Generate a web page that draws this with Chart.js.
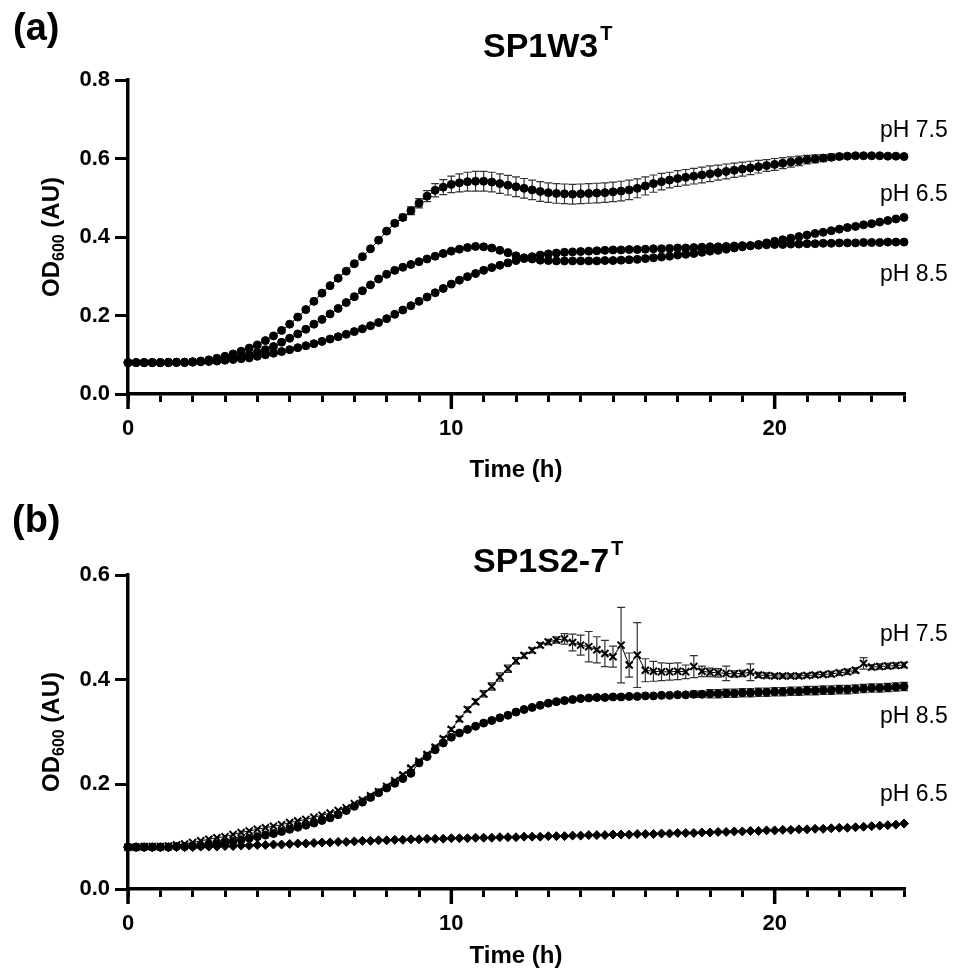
<!DOCTYPE html>
<html>
<head>
<meta charset="utf-8">
<script src="https://cdn.jsdelivr.net/npm/chart.js@4.4.1/dist/chart.umd.min.js"></script>
<style>
  body { margin: 0; background: #fff; width: 960px; height: 975px; position: relative; overflow: hidden;
         font-family: "Liberation Sans", Arial, sans-serif; }
  .panel { position: absolute; left: 0; width: 960px; }
  canvas { display: block; }
  .txt { position: absolute; white-space: nowrap; color: #000; line-height: 1; }
  .plabel { font-size: 38px; font-weight: bold; }
  .title { font-size: 34px; font-weight: bold; }
  .title .sup { font-size: 20px; position: relative; top: -17px; margin-left: 2px; }
  .ph { font-size: 23px; }
  .ytitle { font-size: 24px; font-weight: bold; transform: translate(-50%, -50%) rotate(-90deg); }
  .ytitle sub { font-size: 16px; vertical-align: -5px; line-height: 0; }
</style>
</head>
<body>
<div class="panel" style="top:0;height:487px"><canvas id="chartA" width="960" height="487"></canvas></div>
<div class="panel" style="top:487px;height:488px"><canvas id="chartB" width="960" height="488"></canvas></div>

<div class="txt plabel" style="left:13px;top:8px">(a)</div>
<div class="txt title" style="left:483px;top:28px">SP1W3<span class="sup">T</span></div>
<div class="txt ytitle" style="left:51px;top:237px">OD<sub>600</sub> (AU)</div>
<div class="txt ph" style="left:880px;top:118px">pH 7.5</div>
<div class="txt ph" style="left:880px;top:182px">pH 6.5</div>
<div class="txt ph" style="left:880px;top:262px">pH 8.5</div>

<div class="txt plabel" style="left:12px;top:500px">(b)</div>
<div class="txt title" style="left:473px;top:543px">SP1S2-7<span class="sup">T</span></div>
<div class="txt ytitle" style="left:51px;top:732px">OD<sub>600</sub> (AU)</div>
<div class="txt ph" style="left:880px;top:622px">pH 7.5</div>
<div class="txt ph" style="left:880px;top:704px">pH 8.5</div>
<div class="txt ph" style="left:880px;top:782px">pH 6.5</div>

<script>
// sampling times (h), every 15 min
const hours = [0,0.25,0.5,0.75,1,1.25,1.5,1.75,2,2.25,2.5,2.75,3,3.25,3.5,3.75,4,4.25,4.5,4.75,
  5,5.25,5.5,5.75,6,6.25,6.5,6.75,7,7.25,7.5,7.75,8,8.25,8.5,8.75,9,9.25,9.5,9.75,
  10,10.25,10.5,10.75,11,11.25,11.5,11.75,12,12.25,12.5,12.75,13,13.25,13.5,13.75,14,14.25,14.5,14.75,
  15,15.25,15.5,15.75,16,16.25,16.5,16.75,17,17.25,17.5,17.75,18,18.25,18.5,18.75,19,19.25,19.5,19.75,
  20,20.25,20.5,20.75,21,21.25,21.5,21.75,22,22.25,22.5,22.75,23,23.25,23.5,23.75,24];

const xMajor = [0, 10, 20];

// (a) SP1W3
const a_ph75 = [0.080,0.080,0.080,0.080, 0.080,0.081,0.081,0.081, 0.082,0.084,0.087,0.091, 0.096,0.102,0.109,0.117,
  0.125,0.136,0.148,0.162, 0.178,0.196,0.215,0.236, 0.257,0.276,0.295,0.313, 0.332,0.350,0.370,0.392,
  0.415,0.435,0.450,0.467, 0.486,0.504,0.519,0.527, 0.534,0.538,0.541,0.542, 0.542,0.540,0.536,0.532,
  0.528,0.524,0.520,0.516, 0.513,0.511,0.510,0.509, 0.510,0.511,0.512,0.513, 0.515,0.517,0.520,0.524,
  0.530,0.536,0.541,0.545, 0.549,0.552,0.555,0.558, 0.561,0.564,0.567,0.570, 0.573,0.576,0.579,0.582,
  0.585,0.588,0.591,0.594, 0.597,0.599,0.601,0.603, 0.605,0.606,0.607,0.607, 0.607,0.607,0.606,0.606, 0.605];
const a_ph75_sd = [0,0,0,0, 0,0,0,0, 0,0,0,0, 0,0,0,0, 0,0,0,0, 0,0,0,0, 0,0,0,0, 0,0,0,0,
  0.004,0.006,0.008,0.010, 0.012,0.014,0.017,0.019, 0.021,0.023,0.024,0.025, 0.025,0.025,0.025,0.025,
  0.025,0.025,0.025,0.025, 0.025,0.025,0.025,0.025, 0.025,0.025,0.025,0.025, 0.025,0.025,0.025,0.024,
  0.023,0.022,0.021,0.020, 0.020,0.020,0.020,0.020, 0.020,0.019,0.019,0.018, 0.018,0.017,0.016,0.015,
  0.015,0.014,0.013,0.012, 0.011,0.010,0.009,0.008, 0.007,0.006,0.005,0.004, 0.003,0.003,0.002,0.002, 0.002];
const a_ph65 = [0.080,0.080,0.080,0.080, 0.080,0.080,0.081,0.081, 0.082,0.083,0.084,0.086, 0.088,0.091,0.095,0.100,
  0.106,0.113,0.121,0.132, 0.142,0.153,0.165,0.178, 0.190,0.204,0.218,0.233, 0.248,0.263,0.278,0.293,
  0.305,0.315,0.323,0.330, 0.337,0.344,0.351,0.358, 0.364,0.369,0.373,0.376, 0.375,0.372,0.366,0.360,
  0.352,0.347,0.344,0.341, 0.340,0.339,0.339,0.339, 0.339,0.339,0.339,0.340, 0.340,0.341,0.342,0.343,
  0.345,0.347,0.349,0.351, 0.354,0.356,0.358,0.361, 0.364,0.366,0.369,0.372, 0.375,0.378,0.381,0.385,
  0.389,0.393,0.397,0.401, 0.405,0.409,0.412,0.416, 0.420,0.424,0.427,0.431, 0.434,0.438,0.442,0.446, 0.450];
const a_ph85 = [0.080,0.080,0.080,0.080, 0.080,0.080,0.080,0.080, 0.081,0.082,0.083,0.084, 0.086,0.088,0.090,0.092,
  0.096,0.100,0.104,0.108, 0.113,0.118,0.123,0.128, 0.134,0.140,0.146,0.152, 0.159,0.166,0.174,0.182,
  0.192,0.203,0.214,0.225, 0.236,0.247,0.258,0.269, 0.280,0.290,0.299,0.307, 0.315,0.322,0.328,0.334,
  0.340,0.345,0.350,0.354, 0.357,0.359,0.361,0.362, 0.363,0.364,0.365,0.366, 0.367,0.367,0.368,0.368,
  0.369,0.370,0.370,0.371, 0.372,0.372,0.373,0.374, 0.375,0.375,0.376,0.377, 0.378,0.378,0.379,0.380,
  0.381,0.381,0.382,0.382, 0.383,0.383,0.384,0.384, 0.385,0.385,0.385,0.386, 0.386,0.386,0.387,0.387, 0.387];

// (b) SP1S2-7
const b_ph75 = [0.080,0.080,0.081,0.081, 0.081,0.082,0.084,0.086, 0.089,0.092,0.095,0.098, 0.100,0.104,0.108,0.111,
  0.114,0.117,0.120,0.123, 0.127,0.130,0.133,0.137, 0.141,0.145,0.150,0.155, 0.163,0.170,0.178,0.186,
  0.196,0.207,0.218,0.231, 0.244,0.257,0.271,0.287, 0.305,0.325,0.343,0.358, 0.373,0.387,0.405,0.421,
  0.436,0.446,0.456,0.466, 0.472,0.476,0.478,0.471, 0.466,0.463,0.457,0.450, 0.444,0.466,0.428,0.447,
  0.418,0.416,0.415,0.415, 0.416,0.415,0.425,0.416, 0.414,0.413,0.412,0.411, 0.412,0.414,0.409,0.408,
  0.407,0.407,0.407,0.407, 0.408,0.409,0.410,0.411, 0.413,0.415,0.418,0.431, 0.424,0.425,0.426,0.427, 0.428];
const b_ph75_sd = [0,0,0,0, 0,0,0,0, 0,0,0,0, 0,0,0,0, 0,0,0,0, 0,0,0,0, 0,0,0,0, 0,0,0,0,
  0.002,0.002,0.003,0.003, 0.003,0.004,0.004,0.004, 0.004,0.005,0.005,0.005, 0.006,0.007,0.008,0.007,
  0.006,0.005,0.005,0.005, 0.005,0.006,0.010,0.016, 0.019,0.029,0.025,0.025, 0.020,0.072,0.023,0.062,
  0.022,0.019,0.017,0.016, 0.016,0.013,0.021,0.010, 0.008,0.008,0.014,0.006, 0.006,0.016,0.005,0.005,
  0.004,0.004,0.004,0.004, 0.004,0.004,0.004,0.005, 0.005,0.005,0.005,0.011, 0.005,0.005,0.005,0.005, 0.005];
const b_ph85 = [0.080,0.080,0.080,0.080, 0.080,0.080,0.081,0.081, 0.082,0.083,0.084,0.086, 0.088,0.091,0.094,0.097,
  0.100,0.103,0.106,0.110, 0.114,0.118,0.122,0.126, 0.131,0.136,0.142,0.150, 0.158,0.166,0.175,0.184,
  0.193,0.202,0.211,0.221, 0.241,0.253,0.266,0.279, 0.290,0.298,0.305,0.311, 0.317,0.322,0.327,0.332,
  0.338,0.343,0.347,0.351, 0.355,0.358,0.360,0.362, 0.364,0.365,0.366,0.366, 0.367,0.367,0.368,0.368,
  0.369,0.369,0.370,0.370, 0.371,0.371,0.372,0.372, 0.373,0.373,0.374,0.374, 0.375,0.375,0.376,0.376,
  0.377,0.377,0.378,0.378, 0.379,0.379,0.380,0.380, 0.381,0.381,0.382,0.383, 0.384,0.384,0.385,0.386, 0.387];
const b_ph85_sd = [0,0,0,0, 0,0,0,0, 0,0,0,0, 0,0,0,0, 0,0,0,0, 0,0,0,0, 0,0,0,0, 0,0,0,0,
  0,0,0,0, 0,0,0,0, 0,0,0,0, 0,0,0,0, 0,0,0,0, 0,0,0,0, 0,0,0,0, 0,0,0,0,
  0,0,0,0, 0,0,0.006,0.006, 0.008,0.008,0.008,0.008, 0.008,0.008,0.008,0.008,
  0.008,0.008,0.008,0.008, 0.008,0.008,0.008,0.008, 0.008,0.008,0.008,0.008, 0.008,0.008,0.008,0.008, 0.008];
const b_ph65 = [0.080,0.080,0.080,0.080, 0.080,0.080,0.080,0.080, 0.080,0.081,0.081,0.081, 0.082,0.082,0.083,0.083,
  0.084,0.084,0.085,0.085, 0.086,0.087,0.087,0.088, 0.089,0.089,0.090,0.090, 0.091,0.092,0.092,0.093,
  0.093,0.094,0.094,0.095, 0.095,0.096,0.096,0.096, 0.097,0.097,0.097,0.098, 0.098,0.098,0.099,0.099,
  0.099,0.100,0.100,0.100, 0.101,0.101,0.101,0.102, 0.102,0.103,0.103,0.103, 0.104,0.104,0.104,0.105,
  0.105,0.105,0.106,0.106, 0.107,0.107,0.107,0.108, 0.108,0.109,0.109,0.110, 0.110,0.111,0.111,0.112,
  0.112,0.113,0.113,0.114, 0.114,0.115,0.115,0.116, 0.117,0.117,0.118,0.119, 0.120,0.121,0.122,0.123, 0.125];

const FONT = '"Liberation Sans", Arial, sans-serif';

// pair the sampling times with a series
function pts(ys) {
  return hours.map((h, i) => ({ x: h, y: ys[i] }));
}

function series(ys, style, radius, sd) {
  return {
    data: pts(ys),
    sd: sd,
    borderColor: '#000',
    backgroundColor: '#000',
    borderWidth: 1,
    pointStyle: style,
    pointRadius: radius,
    pointBorderWidth: style === 'crossRot' ? 2 : 1,
    pointBorderColor: '#000',
    pointBackgroundColor: '#000',
    tension: 0,
    clip: false
  };
}

// vertical error bars from the sd arrays
const errorBars = {
  id: 'errorBars',
  beforeDatasetsDraw(chart) {
    const ctx = chart.ctx;
    const y = chart.scales.y;
    chart.data.datasets.forEach((ds, i) => {
      if (!ds.sd) return;
      const meta = chart.getDatasetMeta(i);
      ctx.save();
      ctx.strokeStyle = '#333';
      ctx.lineWidth = 1.2;
      meta.data.forEach((pt, j) => {
        const s = ds.sd[j];
        if (!s) return;
        const v = ds.data[j].y;
        const top = y.getPixelForValue(v + s);
        const bot = y.getPixelForValue(v - s);
        ctx.beginPath();
        ctx.moveTo(pt.x, top); ctx.lineTo(pt.x, bot);
        ctx.moveTo(pt.x - 4, top); ctx.lineTo(pt.x + 4, top);
        ctx.moveTo(pt.x - 4, bot); ctx.lineTo(pt.x + 4, bot);
        ctx.stroke();
      });
      ctx.restore();
    });
  }
};

// longer ticks at the labelled hours
const majorTicks = {
  id: 'majorTicks',
  afterDraw(chart) {
    const ctx = chart.ctx;
    const x = chart.scales.x;
    const bottom = chart.chartArea.bottom;
    ctx.save();
    ctx.strokeStyle = '#000';
    ctx.lineWidth = 3.5;
    xMajor.forEach(v => {
      const px = x.getPixelForValue(v);
      ctx.beginPath();
      ctx.moveTo(px, bottom);
      ctx.lineTo(px, bottom + 15);
      ctx.stroke();
    });
    ctx.restore();
  }
};

function makeChart(id, datasets, yMax, padTop, xHeight, titlePad) {
  return new Chart(document.getElementById(id), {
    type: 'line',
    data: { datasets: datasets },
    plugins: [errorBars, majorTicks],
    options: {
      responsive: false,
      animation: false,
      layout: { padding: { left: 0, right: 56, top: padTop, bottom: 0 } },
      plugins: { legend: { display: false }, tooltip: { enabled: false } },
      scales: {
        x: {
          type: 'linear',
          min: 0,
          max: 24,
          afterFit: s => { s.height = xHeight; },
          border: { color: '#000', width: 3.5 },
          grid: { drawOnChartArea: false, color: '#000', lineWidth: 3, tickLength: 8 },
          ticks: {
            stepSize: 1,
            autoSkip: false,
            maxRotation: 0,
            padding: 14,
            color: '#000',
            font: { family: FONT, size: 22, weight: 'bold' },
            callback: v => (xMajor.includes(v) ? String(v) : '')
          },
          title: {
            display: true,
            text: 'Time (h)',
            color: '#000',
            font: { family: FONT, size: 24, weight: 'bold' },
            padding: { top: 0, bottom: titlePad }
          }
        },
        y: {
          min: 0,
          max: yMax,
          afterFit: s => { s.width = 128; },
          border: { color: '#000', width: 3.5 },
          grid: { drawOnChartArea: false, color: '#000', lineWidth: 3, tickLength: 13 },
          ticks: {
            stepSize: 0.2,
            padding: 5,
            color: '#000',
            font: { family: FONT, size: 22, weight: 'bold' },
            callback: v => v.toFixed(1)
          }
        }
      }
    }
  });
}

makeChart('chartA', [
  series(a_ph75, 'circle', 4, a_ph75_sd),
  series(a_ph65, 'circle', 4, null),
  series(a_ph85, 'circle', 4, null)
], 0.8, 80, 93, 2);

makeChart('chartB', [
  series(b_ph75, 'crossRot', 5, b_ph75_sd),
  series(b_ph85, 'circle', 4, b_ph85_sd),
  series(b_ph65, 'rectRot', 4.5, null)
], 0.6, 88, 86, 4);
</script>
</body>
</html>
